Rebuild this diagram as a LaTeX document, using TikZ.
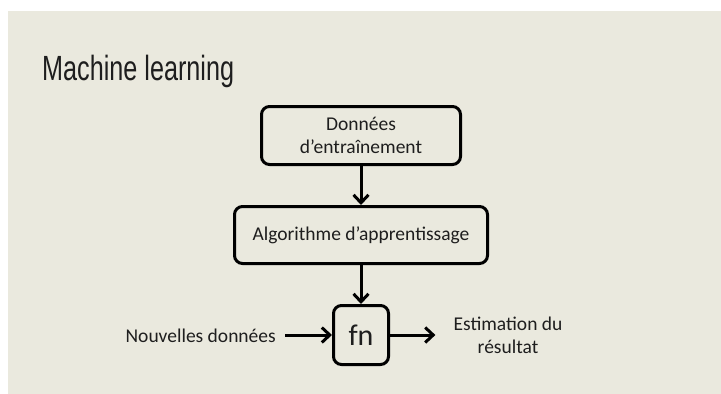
\documentclass[tikz,border=0pt]{standalone}
\usepackage{fontspec}
\setmainfont{Carlito}
\newfontfamily\titlefont[FakeStretch=0.72]{Liberation Sans}
\usetikzlibrary{arrows.meta}
\definecolor{slidebg}{RGB}{234,233,222}
\definecolor{ink}{RGB}{30,30,30}
\tikzset{
  flowbox/.style={draw=black, line width=3pt, rounded corners=8pt, align=center,
    text=ink, font=\fontsize{19.5}{23}\selectfont, inner sep=0pt},
  flowarrow/.style={line width=3pt, -{Straight Barb[length=8pt,width=15pt,line width=3pt]}},
  label/.style={text=ink, font=\fontsize{19.5}{23}\selectfont, inner sep=0pt, align=center}
}
\begin{document}
\begin{tikzpicture}[x=1pt,y=-1pt]
  % page and slide background
  \fill[white] (0,0) rectangle (721,394);
  \fill[slidebg] (8,11) rectangle (721,394);
  \useasboundingbox (0,0) rectangle (721,394);

  % title
  \node[anchor=base west, inner sep=0pt, text=ink, font=\titlefont\fontsize{35}{40}\selectfont] (title) at (42,80) {Machine learning};

  % flow boxes
  \node[flowbox, minimum width=199pt, minimum height=58pt] (data) at (361,135.5) {Données\\d’entraînement};
  \node[flowbox, minimum width=253pt, minimum height=57pt] (algo) at (361,235) {Algorithme d’apprentissage};
  \node[flowbox, minimum width=55pt, minimum height=59pt, font=\fontsize{30}{34}\selectfont] (fn) at (361,335) {fn};

  % side labels
  \node[label, anchor=base east] (new) at (276,342) {Nouvelles données};
  \node[label] (est) at (508,335.5) {Estimation du\\résultat};

  % connectors
  \draw[flowarrow] (data.south) -- (algo.north);
  \draw[flowarrow] (algo.south) -- (fn.north);
  \draw[flowarrow, shorten <=9pt] (new.east |- fn.west) -- (fn.west);
  \draw[flowarrow, shorten >=18pt] (fn.east) -- (est.west |- fn.east);
\end{tikzpicture}
\end{document}
